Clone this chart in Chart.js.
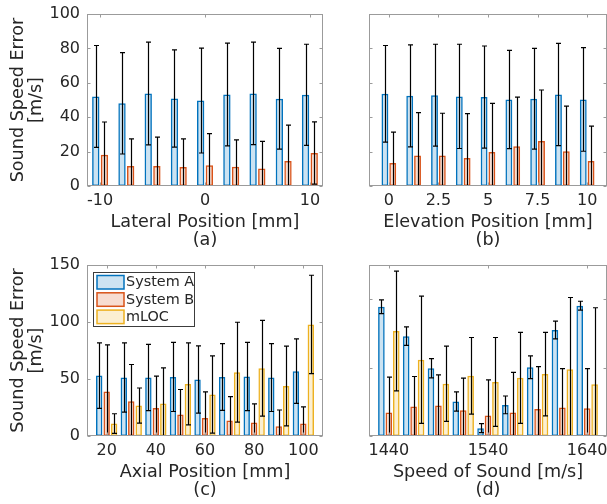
<!DOCTYPE html>
<html>
<head>
<meta charset="utf-8">
<script src="https://cdn.jsdelivr.net/npm/chart.js@4.4.1/dist/chart.umd.min.js"></script>
<style>
  html, body { margin: 0; padding: 0; background: #fff; }
  #wrap { position: relative; width: 607px; height: 504px; overflow: hidden; }
  #wrap canvas { position: absolute; left: 0; top: 0; }
</style>
</head>
<body>
<div id="wrap">
  <canvas id="chartA" width="607" height="504"></canvas>
  <canvas id="chartB" width="607" height="504"></canvas>
  <canvas id="chartC" width="607" height="504"></canvas>
  <canvas id="chartD" width="607" height="504"></canvas>
</div>
<script>
// (a) lateral position
const lateralPos = [-10, -7.5, -5, -2.5, 0, 2.5, 5, 7.5, 10];
const lateralTicks = [-10, 0, 10];
const lateralSysA = [52.1, 48.1, 53.8, 50.9, 49.7, 53.2, 53.8, 50.7, 53.0];
const lateralSysAStd = [29.6, 29.5, 29.9, 28.3, 30.5, 29.9, 29.8, 29.3, 29.4];
const lateralSysB = [18.2, 11.7, 11.7, 11.0, 12.1, 11.2, 10.2, 14.5, 19.2];
const lateralSysBStd = [19.0, 15.7, 16.7, 16.4, 18.3, 15.6, 15.8, 20.9, 18.1];

// (b) elevation position
const elevationPos = [0, 1.25, 2.5, 3.75, 5, 6.25, 7.5, 8.75, 10];
const elevationTicks = [0, 2.5, 5, 7.5, 10];
const elevationSysA = [53.6, 52.4, 52.8, 52.1, 51.7, 50.3, 50.7, 53.2, 50.3];
const elevationSysAStd = [28.1, 29.7, 29.6, 30.3, 29.7, 28.6, 29.3, 29.7, 30.1];
const elevationSysB = [13.3, 17.8, 17.8, 16.3, 19.8, 23.1, 26.2, 20.2, 14.5];
const elevationSysBStd = [18.0, 24.9, 24.5, 25.8, 28.2, 28.6, 29.6, 26.2, 20.3];

// (c) axial position
const axialPos = [20, 30, 40, 50, 60, 70, 80, 90, 100];
const axialTicks = [20, 40, 60, 80, 100];
const axialSysA = [53.0, 51.3, 51.3, 51.8, 49.6, 51.8, 52.2, 51.3, 56.9];
const axialSysAStd = [28.7, 30.4, 29.0, 30.3, 29.5, 29.3, 29.9, 29.8, 28.3];
const axialSysB = [39.0, 30.5, 24.6, 18.8, 15.8, 13.5, 11.8, 8.5, 10.9];
const axialSysBStd = [41.0, 32.2, 28.0, 22.0, 22.9, 21.1, 16.3, 14.3, 14.6];
const axialMloc = [10.9, 26.7, 28.5, 45.7, 36.4, 56.0, 59.5, 43.9, 97.9];
const axialMlocStd = [8.6, 15.4, 31.3, 36.0, 33.9, 43.8, 42.0, 35.0, 43.1];

// (d) speed of sound
const sosPos = [1440, 1465, 1490, 1515, 1540, 1565, 1590, 1615, 1640];
const sosTicks = [1440, 1540, 1640];
const sosSysA = [37.8, 29.2, 19.8, 10.1, 2.3, 9.1, 20.1, 31.0, 38.1];
const sosSysAStd = [2.0, 2.7, 2.8, 2.8, 1.3, 2.6, 3.3, 2.6, 1.3];
const sosSysB = [6.9, 8.6, 8.9, 7.5, 6.0, 6.9, 7.9, 8.3, 8.1];
const sosSysBStd = [10.3, 8.8, 9.0, 9.4, 10.4, 11.7, 12.4, 11.4, 11.6];
const sosMloc = [30.7, 22.3, 15.3, 17.6, 15.8, 17.0, 18.1, 19.5, 15.1];
const sosMlocStd = [17.5, 18.6, 11.0, 11.2, 13.0, 13.3, 12.2, 21.0, 22.4];

// y ticks
const errTicksTop = [0, 20, 40, 60, 80, 100];
const errTicksAxial = [0, 50, 100, 150];
const errTicksSos = [0, 20, 40];

const FONT = "DejaVu Sans";
const TEXT = "#262626";

const errorBars = {
  id: "errorBars",
  afterDatasetsDraw(chart) {
    const ctx = chart.ctx, a = chart.chartArea, ys = chart.scales.y;
    ctx.save();
    ctx.beginPath();
    ctx.rect(a.left, a.top, a.right - a.left, a.bottom - a.top);
    ctx.clip();
    ctx.strokeStyle = "#000";
    ctx.lineWidth = 1.2;
    chart.data.datasets.forEach((ds, i) => {
      chart.getDatasetMeta(i).data.forEach((bar, j) => {
        const m = ds.data[j].y, s = ds.errors[j];
        const x = Math.round(bar.x) + 0.5;
        const top = ys.getPixelForValue(m + s);
        const bot = ys.getPixelForValue(m - s);
        ctx.beginPath();
        ctx.moveTo(x, top); ctx.lineTo(x, bot);
        ctx.moveTo(x - 2.5, top); ctx.lineTo(x + 2.5, top);
        ctx.moveTo(x - 2.5, bot); ctx.lineTo(x + 2.5, bot);
        ctx.stroke();
      });
    });
    ctx.restore();
  }
};

const axesBox = {
  id: "axesBox",
  afterDraw(chart) {
    const {ctx, chartArea: a, scales} = chart;
    const L = Math.round(a.left) + 0.5, R = Math.round(a.right) - 0.5;
    const T = Math.round(a.top) + 0.5, B = Math.round(a.bottom) - 0.5;
    ctx.save();
    ctx.strokeStyle = "#9b9b9b";
    ctx.lineWidth = 1;
    ctx.strokeRect(L, T, R - L, B - T);
    ctx.beginPath();
    scales.x.ticks.forEach(t => {
      const px = Math.round(scales.x.getPixelForValue(t.value)) + 0.5;
      ctx.moveTo(px, B); ctx.lineTo(px, B - 3);
      ctx.moveTo(px, T); ctx.lineTo(px, T + 3);
    });
    scales.y.ticks.forEach(t => {
      const py = Math.round(scales.y.getPixelForValue(t.value)) + 0.5;
      ctx.moveTo(L, py); ctx.lineTo(L + 3, py);
      ctx.moveTo(R, py); ctx.lineTo(R - 3, py);
    });
    ctx.stroke();
    ctx.restore();
  }
};

const boxLegend = {
  id: "boxLegend",
  afterDraw(chart) {
    const {ctx, chartArea: a} = chart;
    const x0 = Math.round(a.left) + 6.5, y0 = Math.round(a.top) + 7.5;
    ctx.save();
    ctx.fillStyle = "#fff";
    ctx.fillRect(x0, y0, 101, 54);
    ctx.strokeStyle = "#3c3c3c";
    ctx.lineWidth = 1;
    ctx.strokeRect(x0, y0, 101, 54);
    ctx.font = "14.4px '" + FONT + "'";
    ctx.textBaseline = "middle";
    chart.data.datasets.forEach((ds, i) => {
      const ty = y0 + 3 + i * 17.3;
      ctx.fillStyle = ds.backgroundColor;
      ctx.fillRect(x0 + 3.5, ty, 27, 13.5);
      ctx.strokeStyle = ds.borderColor;
      ctx.lineWidth = 1.5;
      ctx.strokeRect(x0 + 3.5, ty, 27, 13.5);
      ctx.fillStyle = TEXT;
      ctx.fillText(ds.label, x0 + 32.5, ty + 7);
    });
    ctx.restore();
  }
};

function series(label, pos, mean, err, edge, face) {
  return {
    label: label,
    data: pos.map((p, i) => ({ x: p, y: mean[i] })),
    errors: err,
    borderColor: edge,
    backgroundColor: face,
    borderWidth: 1.5,
    borderSkipped: false
  };
}

const sysA = ["System A", "#0072BD", "rgba(0,114,189,0.2)"];
const sysB = ["System B", "#D95319", "rgba(217,83,25,0.2)"];
const mloc = ["mLOC", "#EDB120", "rgba(237,177,32,0.2)"];

function makePanel(cfg) {
  const area = cfg.area; // left, top, right, bottom on the page
  const xTitlePad = 504 - area[3] - 36.2 - 27.7;
  return new Chart(document.getElementById(cfg.id), {
    type: "bar",
    data: { datasets: cfg.datasets },
    options: {
      responsive: false,
      animation: false,
      events: [],
      datasets: { bar: { categoryPercentage: cfg.cat, barPercentage: cfg.bar } },
      layout: { padding: { left: 0, top: area[1], right: 607 - area[2], bottom: 0 } },
      plugins: { legend: { display: false }, tooltip: { enabled: false } },
      scales: {
        x: {
          type: "linear",
          bounds: "data",
          offset: false,
          min: cfg.xMin,
          max: cfg.xMax,
          grid: { display: false, drawTicks: false },
          border: { display: false },
          afterBuildTicks: s => { s.ticks = cfg.xTicks.map(v => ({ value: v })); },
          afterFit: s => { s.height = 504 - area[3]; s.paddingLeft = 0; s.paddingRight = 0; },
          ticks: {
            color: TEXT, padding: 5, maxRotation: 0, autoSkip: false,
            font: { family: FONT, size: 16 },
            callback: v => String(v)
          },
          title: {
            display: true, text: cfg.xTitle, color: TEXT,
            font: { family: FONT, size: 17.6, lineHeight: 1.05 },
            padding: { top: 0, bottom: xTitlePad }
          }
        },
        y: {
          type: "linear",
          bounds: "data",
          min: cfg.yTicks[0],
          max: cfg.yMax,
          grid: { display: false, drawTicks: false },
          border: { display: false },
          afterBuildTicks: s => { s.ticks = cfg.yTicks.map(v => ({ value: v })); },
          afterFit: s => { s.width = area[0]; s.paddingTop = 0; s.paddingBottom = 0; },
          ticks: {
            display: cfg.yLabels, color: TEXT, padding: 7,
            font: { family: FONT, size: 16 },
            callback: v => String(v)
          },
          title: {
            display: !!cfg.yTitle, text: cfg.yTitle || "", color: TEXT,
            font: { family: FONT, size: 17.6, lineHeight: 1.05 },
            padding: { top: 8.7, bottom: 0 }
          }
        }
      }
    },
    plugins: [errorBars, axesBox].concat(cfg.extra || [])
  });
}

const yTitle = ["Sound Speed Error", "[m/s]"];

makePanel({
  id: "chartA", area: [87, 14, 323, 186],
  xMin: -11.25, xMax: 11.25, xTicks: lateralTicks,
  yMax: 100, yTicks: errTicksTop, yLabels: true, yTitle: yTitle,
  xTitle: ["Lateral Position [mm]", "(a)"],
  cat: 0.66, bar: 0.85,
  datasets: [
    series(sysA[0], lateralPos, lateralSysA, lateralSysAStd, sysA[1], sysA[2]),
    series(sysB[0], lateralPos, lateralSysB, lateralSysBStd, sysB[1], sysB[2])
  ]
});

makePanel({
  id: "chartB", area: [369, 14, 607, 186],
  xMin: -1, xMax: 11, xTicks: elevationTicks,
  yMax: 100, yTicks: errTicksTop, yLabels: false,
  xTitle: ["Elevation Position [mm]", "(b)"],
  cat: 0.63, bar: 0.88,
  datasets: [
    series(sysA[0], elevationPos, elevationSysA, elevationSysAStd, sysA[1], sysA[2]),
    series(sysB[0], elevationPos, elevationSysB, elevationSysBStd, sysB[1], sysB[2])
  ]
});

makePanel({
  id: "chartC", area: [87, 265, 323, 436],
  xMin: 12, xMax: 108, xTicks: axialTicks,
  yMax: 150, yTicks: errTicksAxial, yLabels: true, yTitle: yTitle,
  xTitle: ["Axial Position [mm]", "(c)"],
  cat: 0.91, bar: 0.86,
  datasets: [
    series(sysA[0], axialPos, axialSysA, axialSysAStd, sysA[1], sysA[2]),
    series(sysB[0], axialPos, axialSysB, axialSysBStd, sysB[1], sysB[2]),
    series(mloc[0], axialPos, axialMloc, axialMlocStd, mloc[1], mloc[2])
  ],
  extra: [boxLegend]
});

makePanel({
  id: "chartD", area: [369, 265, 607, 436],
  xMin: 1420, xMax: 1660, xTicks: sosTicks,
  yMax: 50, yTicks: errTicksSos, yLabels: false,
  xTitle: ["Speed of Sound [m/s]", "(d)"],
  cat: 0.9, bar: 0.89,
  datasets: [
    series(sysA[0], sosPos, sosSysA, sosSysAStd, sysA[1], sysA[2]),
    series(sysB[0], sosPos, sosSysB, sosSysBStd, sysB[1], sysB[2]),
    series(mloc[0], sosPos, sosMloc, sosMlocStd, mloc[1], mloc[2])
  ]
});
</script>
</body>
</html>
